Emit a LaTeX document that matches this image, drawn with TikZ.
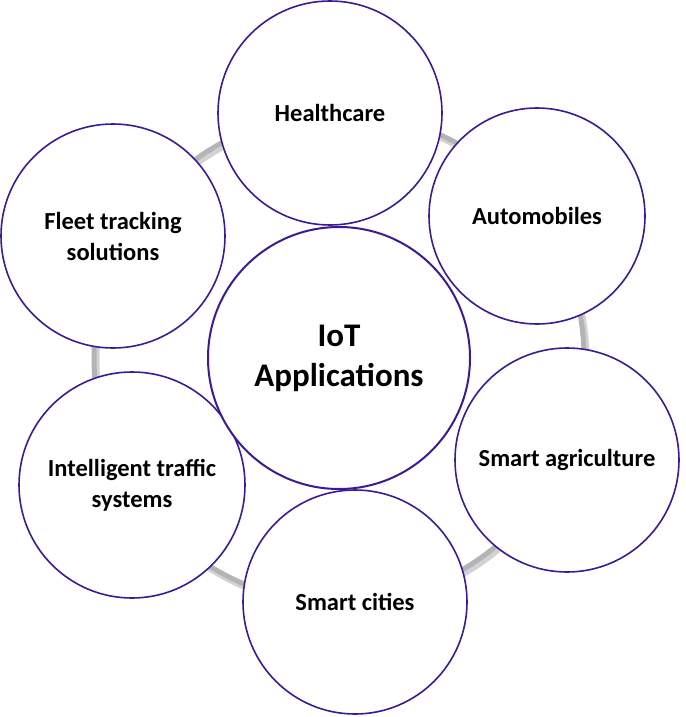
\documentclass[tikz,border=0pt]{standalone}
\usepackage{fontspec}
\setmainfont{Carlito}
\definecolor{ringgray}{HTML}{B4B4B4}
\definecolor{rimpurple}{HTML}{3C1A96}
\tikzset{
  appcircle/.style={circle, draw=rimpurple, line width=1.6pt, fill=white,
    inner sep=0pt, align=center, font=\bfseries\fontsize{24.5}{31}\selectfont},
  hubcircle/.style={appcircle, line width=2pt, font=\bfseries\fontsize{33}{40}\selectfont}
}
\begin{document}
\begin{tikzpicture}[x=1pt,y=-1pt]
  %% Page frame.
  \useasboundingbox (0,0) rectangle (685,717);
  %% The ring behind the circles.
  \draw[ringgray!60, line width=7pt] (341,361) circle (245);
  \draw[ringgray, line width=5pt] (339,358) circle (245);
  %% The application circles.
  \node[appcircle, minimum size=224pt] (health) at (330,113) {Healthcare};
  \node[appcircle, minimum size=216pt] (auto) at (537,216) {Automobiles};
  \node[appcircle, minimum size=224pt] (agri) at (567,460) {Smart agriculture};
  \node[appcircle, minimum size=224pt] (cities) at (355,602) {Smart cities};
  \node[appcircle, minimum size=226pt] (traffic) at (132,485) {Intelligent traffic\\systems};
  \node[appcircle, minimum size=224pt] (fleet) at (113,236) {Fleet tracking\\solutions};
  %% The hub.
  \node[hubcircle, minimum size=262pt] (iot) at (339,358) {IoT\\Applications};
\end{tikzpicture}
\end{document}
